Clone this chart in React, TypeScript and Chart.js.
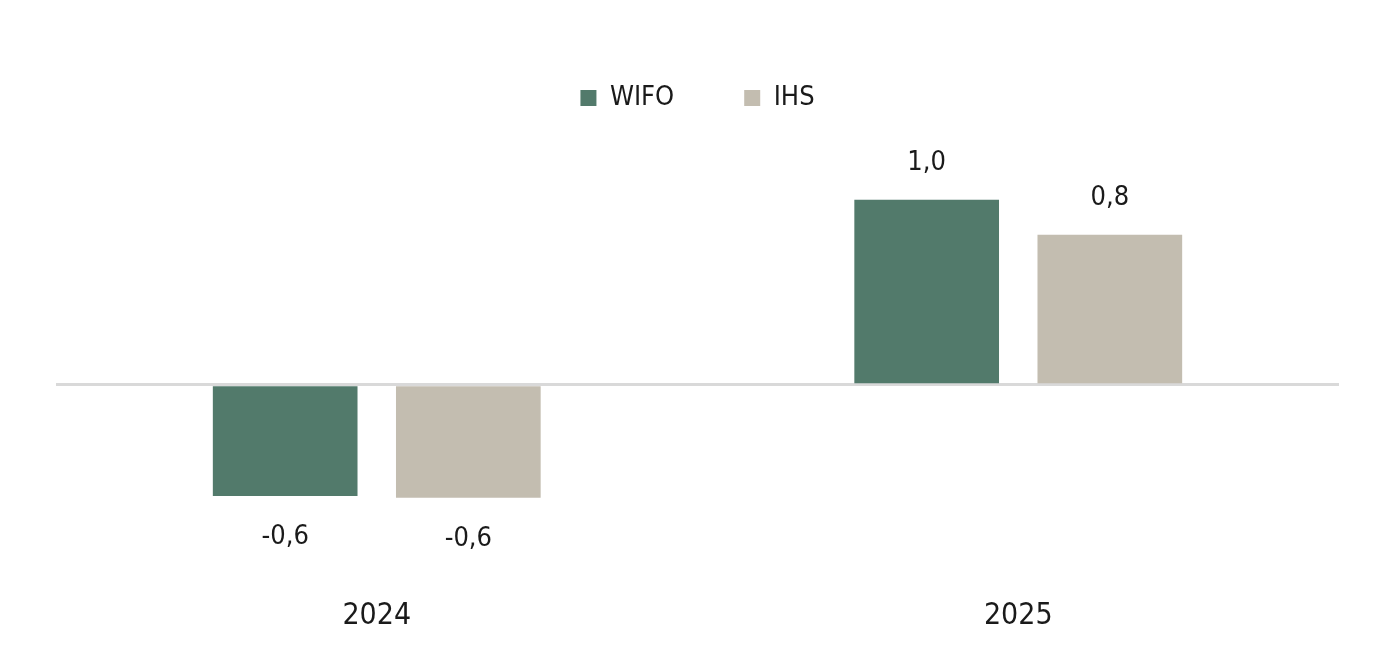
import React, { useEffect, useRef } from "react";
import { Chart, registerables } from "chart.js";

Chart.register(...registerables);

const categories = ["2024", "2025"];
const wifoValues = [-0.6, 1.0];
const ihsValues = [-0.61, 0.81];
const seriesNames = ["WIFO", "IHS"];
const seriesColors = ["#527a6b", "#c3bdb0"];

const FONT = "'DejaVu Sans Condensed', 'DejaVu Sans', sans-serif";
const TEXT = "#1a1a1a";

const valueLabels = {
  id: "valueLabels",
  afterDatasetsDraw(chart: any) {
    const ctx = chart.ctx;
    ctx.save();
    ctx.font = `27px ${FONT}`;
    ctx.fillStyle = TEXT;
    ctx.textAlign = "center";
    ctx.textBaseline = "middle";
    chart.data.datasets.forEach((ds: any, i: number) => {
      const meta = chart.getDatasetMeta(i);
      meta.data.forEach((bar: any, j: number) => {
        const v = ds.data[j] as number;
        const txt = v.toFixed(1).replace(".", ",");
        const y = v >= 0 ? bar.y - 37 : bar.y + 41;
        ctx.fillText(txt, bar.x, y);
      });
    });
    ctx.restore();
  },
};

export default function App() {
  const ref = useRef<HTMLCanvasElement>(null);
  useEffect(() => {
    if (!ref.current) return;
    Chart.defaults.font.family = FONT;
    Chart.defaults.color = TEXT;
    const chart = new Chart(ref.current, {
      type: "bar",
      data: {
        labels: categories,
        datasets: [
          {
            label: seriesNames[0],
            data: wifoValues,
            backgroundColor: seriesColors[0],
            categoryPercentage: 0.571,
            barPercentage: 0.79,
          },
          {
            label: seriesNames[1],
            data: ihsValues,
            backgroundColor: seriesColors[1],
            categoryPercentage: 0.571,
            barPercentage: 0.79,
          },
        ],
      },
      options: {
        animation: false,
        responsive: true,
        maintainAspectRatio: false,
        layout: { padding: { left: 56, right: 51, top: 14.5, bottom: 0 } },
        plugins: {
          tooltip: { enabled: false },
          legend: {
            position: "top",
            align: "center",
            labels: {
              boxWidth: 16,
              boxHeight: 16,
              padding: 70,
              color: TEXT,
              font: { size: 27, family: FONT },
            },
          },
        },
        scales: {
          x: {
            grid: { display: false, drawTicks: false },
            border: { display: false },
            ticks: { padding: 33, color: TEXT, font: { size: 30, family: FONT } },
          },
          y: {
            min: -0.973,
            max: 1.422,
            z: 1,
            ticks: { display: false, stepSize: 0.5 },
            border: { display: false },
            grid: {
              drawTicks: false,
              lineWidth: 3,
              color: (c: any) => (c.tick && c.tick.value === 0 ? "#d9d9d9" : "rgba(0,0,0,0)"),
            },
          },
        },
      },
      plugins: [valueLabels],
    });
    return () => chart.destroy();
  }, []);
  return (
    <div style={{ position: "fixed", left: 0, top: 0, width: 1390, height: 667, background: "#fff" }}>
      <canvas ref={ref} />
    </div>
  );
}
